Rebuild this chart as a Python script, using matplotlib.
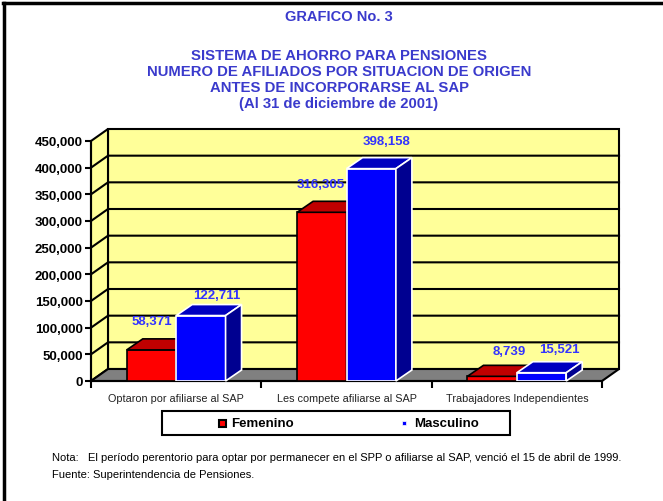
import matplotlib
matplotlib.use("Agg")
import matplotlib.pyplot as plt
from matplotlib.patches import Polygon, Rectangle
from matplotlib.lines import Line2D

plt.rcParams['font.family'] = ['Liberation Sans', 'DejaVu Sans']

categorias = ["Optaron por afiliarse al SAP", "Les compete afiliarse al SAP",
              "Trabajadores Independientes"]
femenino = [58371, 316305, 8739]
masculino = [122711, 398158, 15521]
series = ["Femenino", "Masculino"]
yticks = list(range(0, 450001, 50000))

titulo = ["SISTEMA DE AHORRO PARA PENSIONES",
          "NUMERO DE AFILIADOS POR SITUACION DE ORIGEN",
          "ANTES DE INCORPORARSE AL SAP",
          "(Al 31 de diciembre de 2001)"]
nota = "Nota:   El período perentorio para optar por permanecer en el SPP o afiliarse al SAP, venció el 15 de abril de 1999."
fuente = "Fuente: Superintendencia de Pensiones."

W, H = 663, 502
fig = plt.figure(figsize=(W / 100, H / 100), dpi=100)

# front plane of the plot, in pixels
x0p, x1p, y0p, y1p = 91, 602, 382, 142
ax = fig.add_axes([x0p / W, 1 - y0p / H, (x1p - x0p) / W, (y0p - y1p) / H])
ymax = 450000
ax.set_xlim(0, 3)
ax.set_ylim(0, ymax)
ax.patch.set_visible(False)

px_x = 3 / (x1p - x0p)        # category units per pixel
px_y = ymax / (y0p - y1p)     # value units per pixel

# depth of walls and bars
wdx, wdy = 17 * px_x, 12 * px_y
bdx, bdy = 16 * px_x, 11 * px_y

yellow = "#FFFF99"
kw = dict(clip_on=False)
# back wall, left wall, floor
ax.add_patch(Polygon([(wdx, wdy), (3 + wdx, wdy), (3 + wdx, ymax + wdy), (wdx, ymax + wdy)],
                     fc=yellow, ec="black", lw=1.5, zorder=0, **kw))
ax.add_patch(Polygon([(0, 0), (wdx, wdy), (wdx, ymax + wdy), (0, ymax)],
                     fc=yellow, ec="black", lw=1.5, zorder=0, **kw))
for v in yticks[1:-1]:
    ax.add_line(Line2D([0, wdx, 3 + wdx], [v, v + wdy, v + wdy], color="black", lw=1.5, zorder=1, **kw))
ax.add_patch(Polygon([(0, 0), (3, 0), (3 + wdx, wdy), (wdx, wdy)],
                     fc="#808080", ec="black", lw=1.5, zorder=2, **kw))

bw = 0.29
centers = [i + 0.5 for i in range(3)]
estilos = [dict(front="#FF0000", top="#C00000", side="#900000", ec="black", z=3),
           dict(front="#0000FF", top="#0000C0", side="#000090", ec="white", z=4)]

for s, (vals, st) in enumerate(zip([femenino, masculino], estilos)):
    lefts = [c - bw + s * bw for c in centers]
    bars = ax.bar(lefts, vals, width=bw, align="edge", color=st["front"],
                  edgecolor=st["ec"], lw=1.2, zorder=st["z"])
    for b in bars:
        xl, h, w = b.get_x(), b.get_height(), b.get_width()
        ax.add_patch(Polygon([(xl, h), (xl + w, h), (xl + w + bdx, h + bdy), (xl + bdx, h + bdy)],
                             fc=st["top"], ec=st["ec"], lw=1.2, zorder=st["z"], **kw))
        ax.add_patch(Polygon([(xl + w, 0), (xl + w + bdx, bdy), (xl + w + bdx, h + bdy), (xl + w, h)],
                             fc=st["side"], ec=st["ec"], lw=1.2, zorder=st["z"], **kw))

# value labels (pixel offsets from top-centre of each bar)
label_off = [[(0, -29), (16, -21)], [(-1, -28), (15, -28)], [(17, -25), (18, -24)]]
for i, c in enumerate(centers):
    for s, vals in enumerate([femenino, masculino]):
        xc = c - bw / 2 + s * bw
        dx, dy = label_off[i][s]
        ax.annotate(f"{vals[i]:,}", (xc, vals[i]), xytext=(dx, -dy), textcoords="offset pixels",
                    ha="center", va="center", color="#3333FF", fontsize=9.5,
                    fontweight="bold", zorder=6, annotation_clip=False)

for sp in ["top", "right"]:
    ax.spines[sp].set_visible(False)
for sp in ["left", "bottom"]:
    ax.spines[sp].set_linewidth(1.5)
    ax.spines[sp].set_zorder(2.5)
ax.set_yticks(yticks)
ax.set_yticklabels([f"{v:,}" for v in yticks], fontsize=9.5, fontweight="bold")
ax.tick_params(axis="y", direction="out", length=4, width=1.5, pad=2)
ax.set_xticks([0, 1, 2, 3])
ax.set_xticklabels([])
ax.tick_params(axis="x", which="major", direction="out", length=5, width=1.5)
ax.set_xticks(centers, minor=True)
ax.set_xticklabels(categorias, minor=True, fontsize=7.8, color="#222222")
ax.tick_params(axis="x", which="minor", length=0, pad=9)

# titles
tcol = "#3A3ACC"
fig.text(339 / W, 1 - 17 / H, "GRAFICO No. 3", ha="center", va="center",
         color=tcol, fontsize=10.5, fontweight="bold")
for k, line in enumerate(titulo):
    fig.text(339 / W, 1 - (55.5 + 16.3 * k) / H, line, ha="center", va="center",
             color=tcol, fontsize=10.7, fontweight="bold")

# legend box
fig.add_artist(Rectangle((162 / W, 1 - 436 / H), 348 / W, 24 / H, transform=fig.transFigure,
                         fc="white", ec="black", lw=1.5))
fig.add_artist(Rectangle((219 / W, 1 - 428 / H), 7 / W, 7 / H, transform=fig.transFigure,
                         fc="#FF0000", ec="black", lw=1.5))
fig.add_artist(Rectangle((402 / W, 1 - 426 / H), 4 / W, 4 / H, transform=fig.transFigure,
                         fc="#0000FF", ec="white", lw=0.5))
fig.text(231 / W, 1 - 424 / H, series[0], ha="left", va="center", fontsize=9.5, fontweight="bold")
fig.text(414 / W, 1 - 424 / H, series[1], ha="left", va="center", fontsize=9.5, fontweight="bold")

# notes
fig.text(52 / W, 1 - 458 / H, nota, ha="left", va="center", fontsize=8)
fig.text(52 / W, 1 - 475 / H, fuente, ha="left", va="center", fontsize=8)

# outer frame (top and left)
fig.add_artist(Line2D([3 / W, 1], [1 - 4 / H, 1 - 4 / H], transform=fig.transFigure, color="black", lw=2.5))
fig.add_artist(Line2D([4 / W, 4 / W], [0, 1 - 4 / H], transform=fig.transFigure, color="black", lw=2.5))

fig.savefig("out.png", dpi=100)
